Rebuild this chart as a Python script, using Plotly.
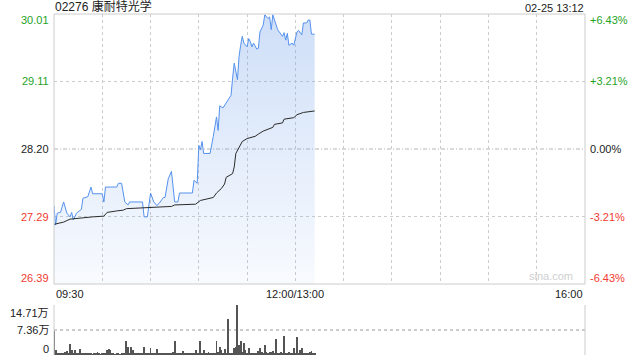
import plotly.graph_objects as go

# ---------------- data ----------------
title_text = "02276 康耐特光学"
stamp_text = "02-25 13:12"

price_times = ["09:30","09:31","09:32","09:34","09:36","09:38","09:40","09:41","09:42","09:43",
               "09:44","09:47","09:48","09:51","09:53","09:54","10:00","10:01","10:02","10:09",
               "10:10","10:12","10:14","10:16","10:17","10:25","10:26","10:28","10:30","10:32",
               "10:34","10:36","10:38","10:39","10:41","10:43","10:45","10:47","10:48","10:56",
               "10:57","10:59","11:00","11:01","11:02","11:03","11:07","11:09","11:10","11:11",
               "11:12","11:13","11:15","11:17","11:20","11:21","11:22","11:24","11:25","11:26",
               "11:27","11:28","11:30","11:31","11:32","11:33","11:34","11:36","11:37","11:38",
               "11:40","11:41","11:43","11:44","11:45","11:46","11:47","11:49","11:50","11:52",
               "11:53","11:54","11:55","11:56","11:58","11:59","13:01","13:02","13:04","13:05",
               "13:07","13:08","13:09","13:10","13:12"]
price_values = [27.44,27.18,27.34,27.35,27.49,27.34,27.29,27.35,27.25,27.30,
                27.34,27.39,27.54,27.56,27.69,27.60,27.60,27.49,27.69,27.69,
                27.74,27.74,27.49,27.45,27.49,27.49,27.29,27.29,27.61,27.49,
                27.44,27.49,27.55,27.55,27.80,27.90,27.49,27.49,27.61,27.61,
                27.78,27.74,28.25,28.19,28.30,28.14,28.14,28.37,28.50,28.63,
                28.45,28.78,28.75,28.82,28.92,29.15,29.35,29.13,29.44,29.59,
                29.71,29.62,29.57,29.68,29.64,29.57,29.62,29.54,29.55,29.77,
                29.86,30.00,29.95,29.97,29.80,30.00,29.93,29.80,29.77,29.71,
                29.76,29.66,29.75,29.59,29.62,29.59,29.77,29.79,29.73,29.89,
                29.89,29.93,29.93,29.74,29.74]

avg_times = ["09:30","09:36","09:40","09:48","09:54","10:01","10:03","10:09","10:13","10:15",
             "10:30","10:43","10:45","10:58","11:01","11:06","11:09","11:11","11:14","11:16",
             "11:17","11:21","11:22","11:23","11:25","11:27","11:30","11:35","11:37","11:40",
             "11:46","11:47","11:52","11:53","11:59","13:01","13:05","13:12"]
avg_values = [27.19,27.22,27.26,27.28,27.29,27.30,27.35,27.37,27.38,27.40,
              27.42,27.43,27.45,27.46,27.51,27.53,27.55,27.61,27.67,27.73,
              27.82,27.87,27.96,28.14,28.23,28.30,28.34,28.37,28.40,28.44,
              28.49,28.53,28.55,28.60,28.62,28.66,28.69,28.71]

# per-minute volume from 09:30, in 万 shares
volume_wan = [7.0,1.4,0.6,0.4,0.5,0.4,0.6,1.0,1.2,0.5,
              3.1,1.4,0.6,1.4,0.4,0.5,1.7,0.4,0.5,0.3,
              0.4,0.3,0.5,0.3,0.2,0.4,0.3,0.9,0.4,0.2,
              0.3,0.4,0.6,1.5,1.9,1.6,0.4,0.3,0.2,0.4,
              0.3,0.2,0.5,0.4,0.6,4.0,2.4,0.6,2.4,1.4,
              0.5,0.4,0.3,0.5,0.4,0.3,2.4,0.4,0.3,0.5,
              2.0,0.4,0.3,0.6,1.8,0.4,0.3,0.5,0.4,0.6,
              0.3,0.5,0.4,0.3,0.9,4.0,0.5,0.4,0.3,0.5,
              1.3,0.4,0.7,0.3,0.4,0.5,0.4,0.6,1.6,0.4,
              0.5,4.0,0.6,1.4,0.4,0.5,1.0,0.4,0.6,0.5,
              0.4,4.0,0.8,2.3,1.4,0.6,1.9,0.3,10.7,0.6,
              0.4,0.3,2.0,2.4,14.71,2.8,4.1,1.0,3.6,1.6,
              0.5,2.0,0.6,0.4,0.7,0.4,0.6,1.1,2.2,0.8,
              0.5,2.8,1.0,0.6,0.8,1.0,1.2,0.5,4.8,0.4,
              0.6,0.9,0.5,5.6,0.4,0.6,0.9,0.4,0.5,2.0,
              0.6,5.3,0.3,1.4,2.0,0.5,0.6,0.7,0.4,0.9,
              1.2,0.6,0.4]

price_ticks = [26.39, 27.29, 28.20, 29.11, 30.01]
price_tick_text = ["26.39", "27.29", "28.20", "29.11", "30.01"]
pct_tick_text = ["-6.43%", "-3.21%", "0.00%", "+3.21%", "+6.43%"]
vol_ticks = [0, 7.36, 14.71]
vol_tick_text = ["0", "7.36万", "14.71万"]
x_label_times = ["09:30", "12:00/13:00", "16:00"]

SESSION_MINUTES = 330
GRID_STEP = 30


def to_minute(t):
    h, m = map(int, t.split(":")[0:2])
    v = h * 60 + m
    return v - 570 if v <= 720 else v - 630


RED = "#f03a2f"
GREEN = "#1fa31f"
DARK = "#222222"
FONT = "Arial, 'Liberation Sans', 'Noto Sans CJK SC', sans-serif"

px = [to_minute(t) for t in price_times]
ax = [to_minute(t) for t in avg_times]
vx = list(range(len(volume_wan)))
mid_i = len(price_ticks) // 2
prev_close = price_ticks[mid_i]

fig = go.Figure()

# baseline for the gradient fill
fig.add_trace(go.Scatter(x=[px[0], px[-1]], y=[price_ticks[0], price_ticks[0]],
                         mode="lines", line=dict(width=0), hoverinfo="skip",
                         showlegend=False, xaxis="x", yaxis="y"))
fig.add_trace(go.Scatter(x=px, y=price_values, mode="lines",
                         line=dict(color="#5592ee", width=1),
                         fill="tonexty",
                         fillgradient=dict(type="vertical",
                                           colorscale=[[0, "rgba(120,165,235,0.05)"],
                                                       [1, "rgba(120,165,235,0.36)"]],
                                           start=price_ticks[0], stop=price_ticks[-1]),
                         showlegend=False, xaxis="x", yaxis="y"))
fig.add_trace(go.Scatter(x=ax, y=avg_values, mode="lines",
                         line=dict(color="#2b2b2b", width=1),
                         showlegend=False, xaxis="x", yaxis="y"))
fig.add_trace(go.Bar(x=vx, y=volume_wan, marker=dict(color="#555555", line=dict(width=0)),
                     width=0.55, showlegend=False, xaxis="x2", yaxis="y2"))

MAIN_DOM = [0.2082, 1.0]
VOL_DOM = [0.0, 0.1466]

fig.update_layout(
    width=640, height=360,
    margin=dict(l=54, r=55, t=14, b=5),
    paper_bgcolor="white", plot_bgcolor="white",
    font=dict(family=FONT, size=11, color="#333"),
    bargap=0,
    xaxis=dict(domain=[0, 1], range=[0, SESSION_MINUTES], anchor="y",
               showgrid=True, gridcolor="#cccccc", griddash="dot", gridwidth=1,
               tick0=0, dtick=GRID_STEP, showticklabels=False, ticks="",
               zeroline=False, showline=False, fixedrange=True),
    yaxis=dict(domain=MAIN_DOM, range=[price_ticks[0], price_ticks[-1]], anchor="x",
               tickvals=[p for i, p in enumerate(price_ticks) if i != mid_i],
               showticklabels=False, ticks="",
               showgrid=True, gridcolor="#cccccc", griddash="dot", gridwidth=1,
               zeroline=False, showline=False, fixedrange=True),
    xaxis2=dict(domain=[0, 1], range=[0, SESSION_MINUTES], anchor="y2",
                showgrid=False, showticklabels=False, ticks="", zeroline=False,
                showline=False, fixedrange=True),
    yaxis2=dict(domain=VOL_DOM, range=[0, vol_ticks[-1]], anchor="x2",
                tickvals=vol_ticks[1:], showticklabels=False, ticks="",
                showgrid=True, gridcolor="#cccccc", griddash="dot", gridwidth=2,
                zeroline=False, showline=False, fixedrange=True),
)

shapes = [
    dict(type="line", xref="paper", yref="y", x0=0, x1=1, y0=prev_close, y1=prev_close,
         line=dict(color="#b4b4b4", width=1, dash="4px,2px,1px,2px"), layer="below"),
    dict(type="rect", xref="paper", yref="paper", x0=0, x1=1, y0=MAIN_DOM[0], y1=MAIN_DOM[1],
         line=dict(color="#cccccc", width=1), fillcolor="rgba(0,0,0,0)", layer="above"),
    dict(type="line", xref="paper", yref="paper", x0=0, x1=0, y0=VOL_DOM[0], y1=VOL_DOM[1],
         line=dict(color="#cccccc", width=1)),
    dict(type="line", xref="paper", yref="paper", x0=1, x1=1, y0=VOL_DOM[0], y1=VOL_DOM[1],
         line=dict(color="#cccccc", width=1)),
]
fig.update_layout(shapes=shapes)

ann = []
# title and stamp
ann.append(dict(text=title_text, xref="paper", yref="paper", x=0, y=1, xanchor="left",
                yanchor="bottom", showarrow=False, font=dict(size=12, color="#222"),
                yshift=-2, xshift=-1))
ann.append(dict(text=stamp_text, xref="paper", yref="paper", x=1, y=1, xanchor="right",
                yanchor="bottom", showarrow=False, font=dict(size=11, color="#222"),
                yshift=-2, xshift=1))

# price / percent labels
n = len(price_ticks)
for i, (p, lt, rt) in enumerate(zip(price_ticks, price_tick_text, pct_tick_text)):
    color = RED if i < mid_i else (GREEN if i > mid_i else DARK)
    shift = 6 if i == 0 else (-6 if i == n - 1 else 0)
    ann.append(dict(text=lt, xref="paper", yref="y", x=0, y=p, xanchor="right",
                    yanchor="middle", showarrow=False, xshift=-3, yshift=shift,
                    font=dict(size=11, color=color)))
    ann.append(dict(text=rt, xref="paper", yref="y", x=1, y=p, xanchor="left",
                    yanchor="middle", showarrow=False, xshift=3, yshift=shift,
                    font=dict(size=11, color=color)))

# time labels
anchors = ["left", "center", "right"]
xs = [0, to_minute("12:00"), SESSION_MINUTES]
for t, xa, xv in zip(x_label_times, anchors, xs):
    ann.append(dict(text=t, xref="x", yref="paper", x=xv, y=MAIN_DOM[0], xanchor=xa,
                    yanchor="top", showarrow=False, yshift=-2,
                    font=dict(size=11, color="#222")))

# volume labels
for i, (v, vt) in enumerate(zip(vol_ticks, vol_tick_text)):
    shift = 6 if i == 0 else (-8 if i == len(vol_ticks) - 1 else 0)
    ann.append(dict(text=vt, xref="paper", yref="y2", x=0, y=v, xanchor="right",
                    yanchor="middle", showarrow=False, xshift=-3, yshift=shift,
                    font=dict(size=11, color="#222")))

# watermark
ann.append(dict(text="sina.com", xref="paper", yref="paper", x=1, y=MAIN_DOM[0],
                xanchor="right", yanchor="bottom", showarrow=False, xshift=-10, yshift=0,
                font=dict(size=11, color="#d0d0d0")))

fig.update_layout(annotations=ann)
fig.write_html("out.html")
